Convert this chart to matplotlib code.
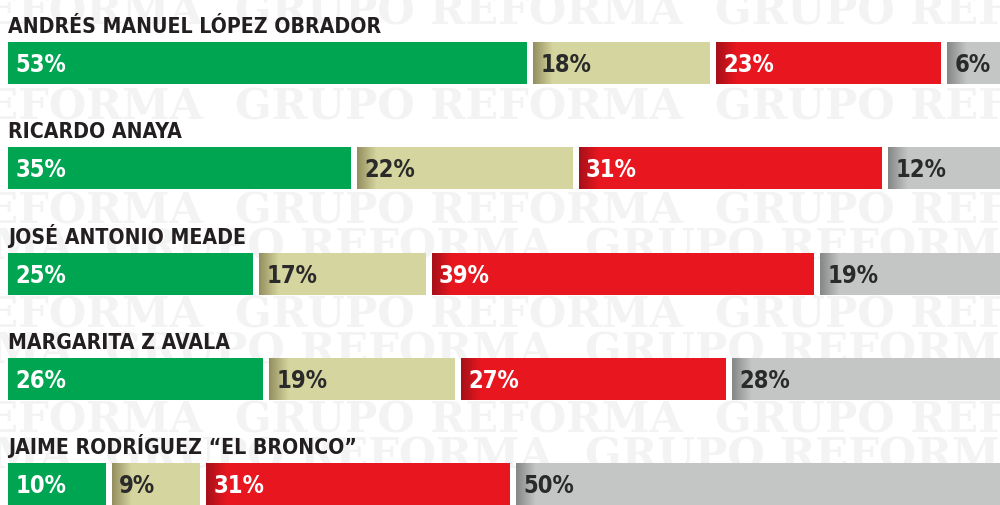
import matplotlib
matplotlib.use("Agg")
import matplotlib.pyplot as plt
import numpy as np
from matplotlib.colors import to_rgb

candidates = ["ANDRÉS MANUEL LÓPEZ OBRADOR", "RICARDO ANAYA", "JOSÉ ANTONIO MEADE",
              "MARGARITA Z AVALA", "JAIME RODRÍGUEZ “EL BRONCO”"]
favorable = [53, 35, 25, 26, 10]
neutral = [18, 22, 17, 19, 9]
unfavorable = [23, 31, 39, 27, 31]
no_opinion = [6, 12, 19, 28, 50]

series = [favorable, neutral, unfavorable, no_opinion]
base_colors = ["#00a551", "#d5d59f", "#e8171f", "#c4c6c6"]
dark_colors = [None, "#948e5e", "#a5101a", "#858787"]
text_colors = ["white", "#2a2a2a", "white", "#2a2a2a"]

W, H = 1000, 506
fig = plt.figure(figsize=(W / 100, H / 100), dpi=100)
fig.patch.set_facecolor("white")

bg = fig.add_axes([0, 0, 1, 1])
bg.set_xlim(0, W)
bg.set_ylim(H, 0)
bg.axis("off")
wm_kw = dict(fontsize=31, fontweight="bold", family="DejaVu Serif", color="#f3f3f3",
             va="center", ha="left", clip_on=True)
for yc in [12, 107, 211, 316, 421]:
    for x0 in [-245, 235, 715]:
        bg.text(x0, yc, "GRUPO REFORMA", **wm_kw)
for yc in [247, 352, 457]:
    for x0 in [-375, 105, 585]:
        bg.text(x0, yc, "GRUPO REFORMA", **wm_kw)

px_per_pct = 9.8
left_px = 8
ax = fig.add_axes([0, 0, 1, 1])
ax.patch.set_alpha(0)
ax.axis("off")
gap = 6 / px_per_pct
grad_w = 20 / px_per_pct
bar_h = 42
row0 = 64
row_step = 105.3

label_font = ["DejaVu Sans"]

for i, name in enumerate(candidates):
    yc = row0 + i * row_step
    ax.text(0, yc - bar_h / 2 - 10, name, fontsize=15.2, fontweight="bold",
            family=label_font, fontstretch="condensed", color="#231f20",
            va="baseline", ha="left")
    start = 0.0
    for s, vals in enumerate(series):
        v = vals[i]
        ax.barh(yc, v, left=start, height=bar_h, color=base_colors[s], edgecolor="none", zorder=2)
        if dark_colors[s] is not None:
            c0 = np.array(to_rgb(dark_colors[s]))
            c1 = np.array(to_rgb(base_colors[s]))
            t = np.linspace(0, 1, 64)[None, :, None]
            img = c0 * (1 - t) + c1 * t
            ax.imshow(img, extent=[start, start + grad_w, yc + bar_h / 2, yc - bar_h / 2],
                      aspect="auto", interpolation="bilinear", zorder=3)
        ax.text(start + 0.75, yc + 1, f"{v}%", fontsize=17, fontweight="bold",
                family=label_font, fontstretch="condensed", color=text_colors[s],
                va="center", ha="left", zorder=4)
        start += v + gap

ax.set_xlim(-left_px / px_per_pct, (W - left_px) / px_per_pct)
ax.set_ylim(H, 0)

fig.savefig("out.png", dpi=100, facecolor="white")
